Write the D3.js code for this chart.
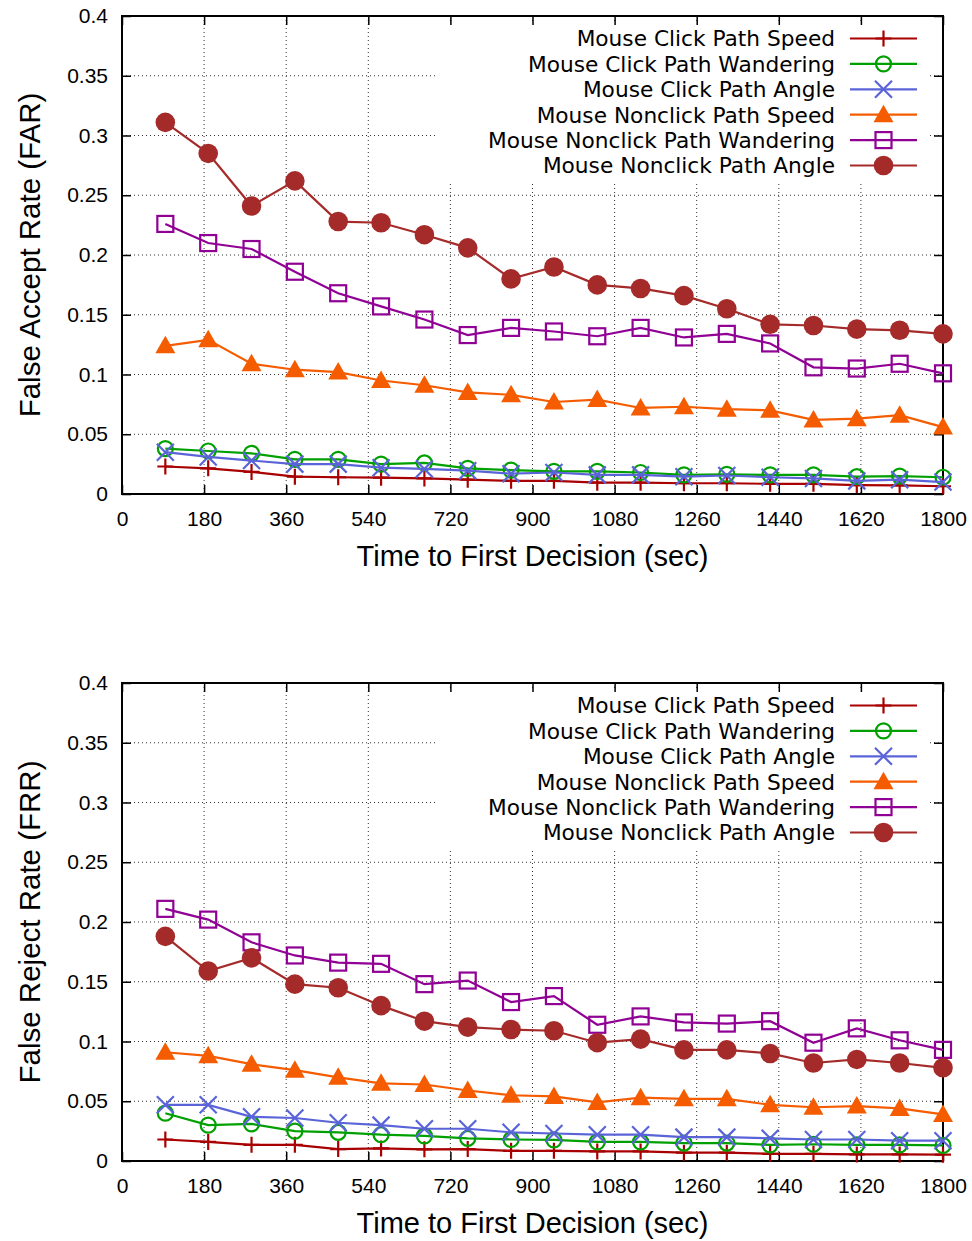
<!DOCTYPE html>
<html>
<head>
<meta charset="utf-8">
<script src="https://cdn.jsdelivr.net/npm/d3@7"></script>
<style>
  body { margin: 0; background: #fff; }
  text { font-family: "Liberation Sans", Arial, sans-serif; fill: #000; }
  .legend text { font-family: "DejaVu Sans", sans-serif; }
</style>
</head>
<body>
<svg id="chart" width="972" height="1241"></svg>
<script>
// x values (seconds) of the measured points
const times = [95, 189, 284, 379, 474, 568, 663, 758, 853, 947, 1042, 1137, 1232, 1326, 1421, 1516, 1611, 1705, 1800];

const seriesNames = [
  'Mouse Click Path Speed',
  'Mouse Click Path Wandering',
  'Mouse Click Path Angle',
  'Mouse Nonclick Path Speed',
  'Mouse Nonclick Path Wandering',
  'Mouse Nonclick Path Angle'
];

// false accept rate
const farClickSpeed = [0.023, 0.0215, 0.0185, 0.0145, 0.014, 0.0137, 0.013, 0.012, 0.011, 0.011, 0.0095, 0.0095, 0.009, 0.009, 0.0085, 0.0085, 0.0075, 0.0073, 0.0065];
const farClickWandering = [0.038, 0.036, 0.034, 0.029, 0.029, 0.025, 0.026, 0.0215, 0.020, 0.019, 0.019, 0.018, 0.016, 0.0165, 0.016, 0.016, 0.0145, 0.015, 0.014];
const farClickAngle = [0.035, 0.031, 0.028, 0.025, 0.025, 0.022, 0.021, 0.0195, 0.017, 0.018, 0.016, 0.016, 0.0145, 0.0155, 0.014, 0.013, 0.011, 0.012, 0.010];
const farNonclickSpeed = [0.124, 0.129, 0.109, 0.104, 0.102, 0.095, 0.091, 0.085, 0.083, 0.077, 0.079, 0.072, 0.073, 0.071, 0.070, 0.062, 0.063, 0.066, 0.056];
const farNonclickWandering = [0.226, 0.210, 0.205, 0.186, 0.168, 0.157, 0.146, 0.133, 0.139, 0.136, 0.132, 0.139, 0.131, 0.134, 0.126, 0.106, 0.105, 0.109, 0.101];
const farNonclickAngle = [0.311, 0.285, 0.241, 0.262, 0.228, 0.227, 0.217, 0.206, 0.180, 0.190, 0.175, 0.172, 0.166, 0.155, 0.142, 0.141, 0.138, 0.137, 0.134];

// false reject rate
const frrClickSpeed = [0.018, 0.016, 0.0135, 0.0135, 0.010, 0.0105, 0.0098, 0.010, 0.0085, 0.0085, 0.008, 0.008, 0.007, 0.007, 0.006, 0.006, 0.0055, 0.0055, 0.0053];
const frrClickWandering = [0.040, 0.030, 0.031, 0.025, 0.024, 0.022, 0.021, 0.019, 0.018, 0.0176, 0.016, 0.016, 0.015, 0.015, 0.0135, 0.014, 0.0135, 0.0135, 0.013];
const frrClickAngle = [0.047, 0.047, 0.037, 0.036, 0.032, 0.030, 0.027, 0.027, 0.024, 0.023, 0.022, 0.022, 0.020, 0.020, 0.019, 0.018, 0.018, 0.017, 0.017];
const frrNonclickSpeed = [0.091, 0.088, 0.081, 0.076, 0.070, 0.065, 0.064, 0.059, 0.055, 0.054, 0.049, 0.053, 0.052, 0.052, 0.047, 0.045, 0.046, 0.044, 0.039];
const frrNonclickWandering = [0.211, 0.202, 0.183, 0.172, 0.166, 0.165, 0.148, 0.151, 0.133, 0.138, 0.114, 0.121, 0.116, 0.115, 0.117, 0.099, 0.111, 0.101, 0.093];
const frrNonclickAngle = [0.188, 0.159, 0.170, 0.148, 0.145, 0.130, 0.117, 0.112, 0.110, 0.109, 0.099, 0.102, 0.093, 0.093, 0.090, 0.082, 0.085, 0.082, 0.078];

const xTickValues = [0, 180, 360, 540, 720, 900, 1080, 1260, 1440, 1620, 1800];
const yTickValues = [0, 0.05, 0.1, 0.15, 0.2, 0.25, 0.3, 0.35, 0.4];
const xLabel = 'Time to First Decision (sec)';

const colors = ['#a80000', '#00a000', '#5a64d8', '#f55c00', '#900094', '#a52a2a'];
const markers = ['plus', 'circle', 'x', 'triangle', 'square', 'dot'];

const svg = d3.select('#chart');
const left = 122, right = 943, plotH = 478;

const x = d3.scaleLinear().domain([0, 1800]).range([left, right]);

function drawMarker(g, type, color) {
  if (type === 'plus') {
    g.append('path').attr('d', 'M-8,0H8M0,-8V8').attr('stroke', color).attr('stroke-width', 2.2).attr('fill', 'none');
  } else if (type === 'circle') {
    g.append('circle').attr('r', 7.5).attr('stroke', color).attr('stroke-width', 2.2).attr('fill', 'none');
  } else if (type === 'x') {
    g.append('path').attr('d', 'M-8.5,-8.5L8.5,8.5M-8.5,8.5L8.5,-8.5').attr('stroke', color).attr('stroke-width', 2.2).attr('fill', 'none');
  } else if (type === 'triangle') {
    g.append('path').attr('d', 'M0,-10L10,7.5L-10,7.5Z').attr('fill', color);
  } else if (type === 'square') {
    g.append('rect').attr('x', -8).attr('y', -8).attr('width', 16).attr('height', 16)
      .attr('stroke', color).attr('stroke-width', 2.2).attr('fill', 'none');
  } else {
    g.append('circle').attr('r', 9.8).attr('fill', color);
  }
}

function drawPanel(top, yLabel, series) {
  const y = d3.scaleLinear().domain([0, 0.4]).range([top + plotH, top]);
  const g = svg.append('g');

  // dotted grid
  g.append('g').selectAll('line').data(yTickValues.slice(1, -1)).join('line')
    .attr('x1', left).attr('x2', right).attr('y1', d => y(d)).attr('y2', d => y(d))
    .attr('stroke', '#333').attr('stroke-width', 1).attr('stroke-dasharray', '1,3');
  g.append('g').selectAll('line').data(xTickValues.slice(1, -1)).join('line')
    .attr('x1', d => x(d)).attr('x2', d => x(d)).attr('y1', top).attr('y2', top + plotH)
    .attr('stroke', '#333').attr('stroke-width', 1).attr('stroke-dasharray', '1,3');

  // key area blanks the grid
  g.append('rect').attr('x', 435).attr('y', top + 5).attr('width', 493).attr('height', 160).attr('fill', '#fff');

  // axes with inward ticks, mirrored
  const fmt = d3.format('~g');
  g.append('g').attr('transform', `translate(0,${top + plotH})`)
    .call(d3.axisBottom(x).tickValues(xTickValues).tickSizeInner(-9).tickSizeOuter(0).tickPadding(17).tickFormat(fmt));
  g.append('g').attr('transform', `translate(0,${top})`)
    .call(d3.axisTop(x).tickValues(xTickValues).tickSizeInner(-9).tickSizeOuter(0).tickFormat(''));
  g.append('g').attr('transform', `translate(${left},0)`)
    .call(d3.axisLeft(y).tickValues(yTickValues).tickSizeInner(-9).tickSizeOuter(0).tickPadding(14).tickFormat(fmt));
  g.append('g').attr('transform', `translate(${right},0)`)
    .call(d3.axisRight(y).tickValues(yTickValues).tickSizeInner(-9).tickSizeOuter(0).tickFormat(''));
  g.selectAll('.domain').remove();
  g.selectAll('.tick line').attr('stroke', '#000').attr('stroke-width', 1.5);
  g.selectAll('.tick text').style('font-size', '21px').attr('fill', '#000');
  g.append('rect').attr('x', left).attr('y', top).attr('width', right - left).attr('height', plotH)
    .attr('fill', 'none').attr('stroke', '#000').attr('stroke-width', 2);

  // series
  const line = d3.line().x((d, i) => x(times[i])).y(d => y(d));
  series.forEach((vals, s) => {
    const sg = g.append('g');
    sg.append('path').datum(vals).attr('d', line).attr('fill', 'none')
      .attr('stroke', colors[s]).attr('stroke-width', 2.2);
    sg.selectAll('g').data(vals).join('g')
      .attr('transform', (d, i) => `translate(${x(times[i])},${y(d)})`)
      .each(function () { drawMarker(d3.select(this), markers[s], colors[s]); });
  });

  // key
  const key = g.append('g').attr('class', 'legend');
  seriesNames.forEach((name, s) => {
    const ky = top + 22.5 + s * 25.4;
    key.append('text').attr('x', 835).attr('y', ky).attr('dy', '0.36em')
      .attr('text-anchor', 'end').style('font-size', '21.7px').text(name);
    key.append('line').attr('x1', 850).attr('x2', 917).attr('y1', ky).attr('y2', ky)
      .attr('stroke', colors[s]).attr('stroke-width', 2.2);
    drawMarker(key.append('g').attr('transform', `translate(883.5,${ky})`), markers[s], colors[s]);
  });

  // axis titles
  g.append('text').attr('x', (left + right) / 2).attr('y', top + plotH + 72)
    .attr('text-anchor', 'middle').style('font-size', '29px').text(xLabel);
  g.append('text').attr('transform', `translate(40,${top + plotH / 2}) rotate(-90)`)
    .attr('text-anchor', 'middle').style('font-size', '29.5px').text(yLabel);
}

drawPanel(16, 'False Accept Rate (FAR)',
  [farClickSpeed, farClickWandering, farClickAngle, farNonclickSpeed, farNonclickWandering, farNonclickAngle]);
drawPanel(683, 'False Reject Rate (FRR)',
  [frrClickSpeed, frrClickWandering, frrClickAngle, frrNonclickSpeed, frrNonclickWandering, frrNonclickAngle]);
</script>
</body>
</html>
